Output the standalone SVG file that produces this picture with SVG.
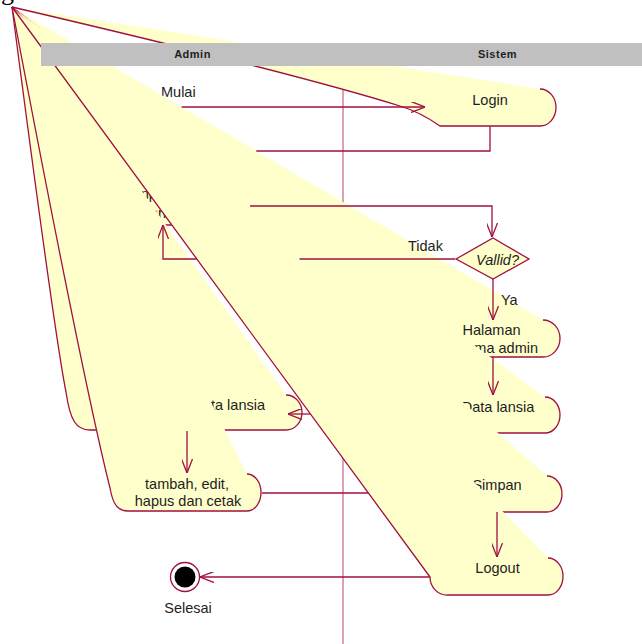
<svg xmlns="http://www.w3.org/2000/svg" width="642" height="644" viewBox="0 0 642 644">
<defs>
<style>
.w{fill:#FFFFCC;stroke:#A01040;stroke-width:1.3;stroke-linejoin:round}
.t{font-family:"Liberation Sans",Arial,sans-serif;font-size:14.5px;fill:#1E1E1E}
.c{fill:none;stroke:#A01040;stroke-width:1.3}
.h{font-family:"Liberation Sans",Arial,sans-serif;font-size:11px;font-weight:bold;letter-spacing:0.5px;fill:#1E1E1E}
</style>
<marker id="ah" viewBox="0 0 14 11" refX="14" refY="5.5" markerWidth="14" markerHeight="11" markerUnits="userSpaceOnUse" orient="auto"><path d="M0,0 L14,5.5 L0,11" fill="none" stroke="#A01040" stroke-width="1.3"/></marker>
</defs>
<rect width="642" height="644" fill="#FFFFFF"/>
<g id="lane-divider"><line x1="343" y1="66" x2="343" y2="644" stroke="#B5476E" stroke-width="1"/></g>
<g id="login"><path class="w" d="M12,7 Q290,72 400,106 Q420,112 440,126 L540,126 A16,18.5 0 0 0 540,89"/><text class="t" x="490" y="104.5" text-anchor="middle">Login</text></g>
<g id="start"><text class="t" x="161" y="97">Mulai</text></g>
<g id="input-login"><path class="w" d="M12,7 L126,205 A18,20 0 0 0 144,225 L232,225 A18,20.5 0 0 0 232,184"/><text class="t" x="187" y="199" text-anchor="middle">Input username</text><text class="t" x="187" y="218" text-anchor="middle">dan password</text></g>
<g id="halaman"><path class="w" d="M12,7 L440,339 A18,18 0 0 0 458,357 L543,357 A17,18.5 0 0 0 543,320"/><text class="t" x="491.5" y="335" text-anchor="middle">Halaman</text><text class="t" x="538" y="353" text-anchor="end">utama admin</text></g>
<g id="data-lansia"><path class="w" d="M12,7 L440,415 A17,18 0 0 0 457,433 L545,433 A15,18 0 0 0 545,397"/><text class="t" x="498" y="411.5" text-anchor="middle">Data lansia</text></g>
<g id="vallid"><polygon points="456,259 493,238 529,259 493,279" fill="#FFFFCC" stroke="#A01040" stroke-width="1.3"/><text class="t" x="476" y="264.5" font-style="italic" font-size="16.5">Vallid?</text></g>
<g id="admin-data-lansia"><path class="w" d="M12,7 Q54.6,335 66,392 C70,420 76,430 90,430 L286,430 A16,17.5 0 0 0 286,395"/><text class="t" x="265" y="410" text-anchor="end">Mengelola data lansia</text></g>
<g id="simpan"><path class="w" d="M12,7 L436,494 A17,18 0 0 0 453,512 L547,512 A15,18 0 0 0 547,476"/><text class="t" x="497" y="490" text-anchor="middle">Simpan</text></g>
<g id="tambah"><path class="w" d="M12,7 Q82.5,378 110,488 C113,505 118,511 128,511 L247,511 A14,18.5 0 0 0 247,474"/><text class="t" x="187" y="489" text-anchor="middle">tambah, edit,</text><text class="t" x="188" y="505.5" text-anchor="middle">hapus dan cetak</text></g>
<g id="logout"><path class="w" d="M12,7 L430,577 A17,18 0 0 0 448,595 L548,595 A15,18.5 0 0 0 548,558"/><text class="t" x="497.5" y="573" text-anchor="middle">Logout</text></g>
<g id="selesai"><circle cx="185" cy="577" r="14.5" fill="#FFFFFF" stroke="#A01040" stroke-width="1.3"/><circle cx="185" cy="577" r="10.5" fill="#000000"/><text class="t" x="188" y="613" text-anchor="middle">Selesai</text></g>
<g id="connectors">
<path class="c" d="M181.6,107 L425,107" marker-end="url(#ah)"/>
<path class="c" d="M490,126 L490,151 L256.3,151"/>
<path class="c" d="M250,206 L492,206 L492,237" marker-end="url(#ah)"/>
<path class="c" d="M455,259 L299.5,259"/>
<path class="c" d="M196.8,259 L163,259 L163,225" marker-end="url(#ah)"/>
<path class="c" d="M493,279 L493,320" marker-end="url(#ah)"/>
<path class="c" d="M493,357 L493,395" marker-end="url(#ah)"/>
<path class="c" d="M310,414 L288,414" marker-end="url(#ah)"/>
<path class="c" d="M187,431 L187,473" marker-end="url(#ah)"/>
<path class="c" d="M262,493 L368.4,493"/>
<path class="c" d="M497,512 L497,557" marker-end="url(#ah)"/>
<path class="c" d="M430,577 L200,577" marker-end="url(#ah)"/>
<text class="t" x="408" y="251">Tidak</text>
<text class="t" x="501" y="305">Ya</text>
</g>
<g id="lane-admin"><rect x="41" y="43" width="302" height="23" fill="#C0C0C0"/><text class="h" x="192.5" y="58" text-anchor="middle">Admin</text></g>
<g id="lane-sistem"><rect x="343" y="43" width="299" height="23" fill="#C0C0C0"/><text class="h" x="497.5" y="58" text-anchor="middle">Sistem</text></g>
<text x="1" y="0" font-family="Liberation Serif,serif" font-size="26" fill="#000">g</text>
</svg>
